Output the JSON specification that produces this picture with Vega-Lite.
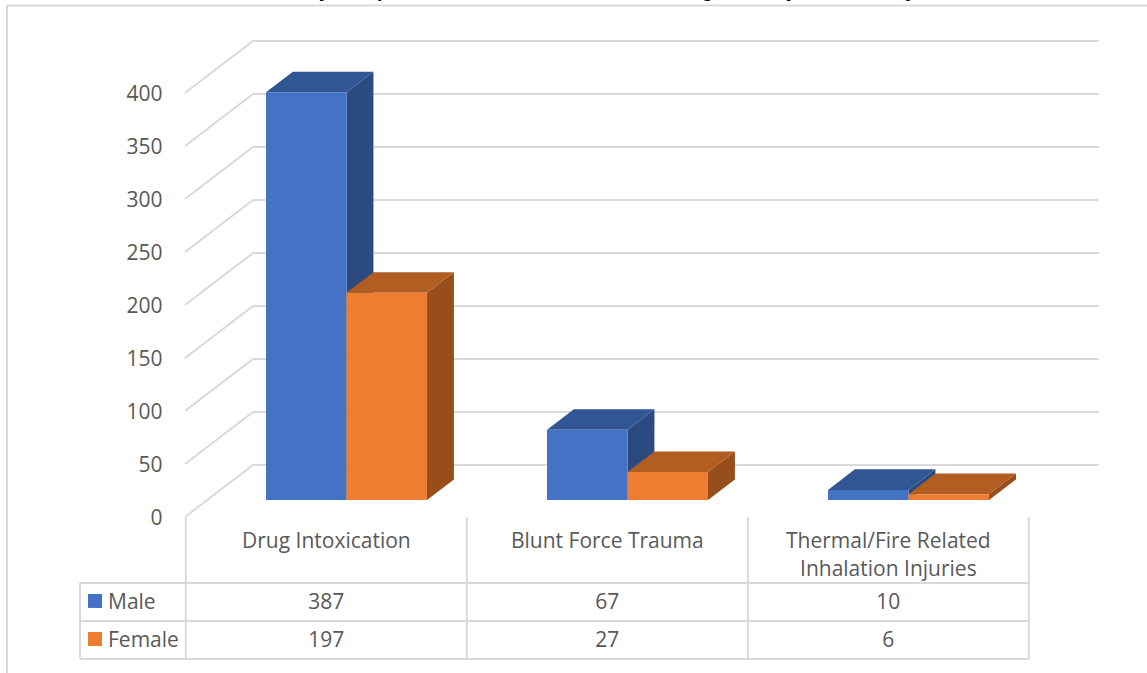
{
"$schema":"https://vega.github.io/schema/vega-lite/v6.json",
"width":962,"height":673,"autosize":{"type":"none"},"padding":{"left":185,"top":0,"right":0,"bottom":0},
"background":"white",
"config":{"view":{"stroke":null},"text":{"font":"Open Sans","fontSize":21,"color":"#595959"}},
"resolve":{"axis":{"y":"independent"}},
"datasets":{
"bars":[
{"cause":"Drug Intoxication","series":"Male","value":387},
{"cause":"Drug Intoxication","series":"Female","value":197},
{"cause":"Blunt Force Trauma","series":"Male","value":67},
{"cause":"Blunt Force Trauma","series":"Female","value":27},
{"cause":"Thermal/Fire Related Inhalation Injuries","series":"Male","value":10},
{"cause":"Thermal/Fire Related Inhalation Injuries","series":"Female","value":6}
],
"levels":[{"level":0},{"level":50},{"level":100},{"level":150},{"level":200},{"level":250},{"level":300},{"level":350},{"level":400}],
"boundaries":[{"b":0},{"b":1},{"b":2},{"b":3}],
"rows":[{"row":-62.3},{"row":-98.1},{"row":-134}],
"titleRow":[{"title":"Mortality Compared Across Three Causes, Ranking Them by Gender Only"}]
},
"layer":[
{"data":{"name":"levels"},"mark":{"type":"rule","stroke":"#D9D9D9","strokeWidth":2},
 "transform":[{"calculate":"datum.level+49.06","as":"back"}],
 "encoding":{
  "x":{"datum":0.242,"type":"quantitative","scale":{"domain":[0,3.42349],"range":[0,962],"nice":false,"zero":false},"axis":null},
  "x2":{"datum":3.2527},
  "y":{"field":"back","type":"quantitative","scale":{"domain":[-147.17,487.74],"range":[673,0],"nice":false,"zero":false},"axis":null}
 }},
{"data":{"name":"levels"},"mark":{"type":"line","stroke":"#D9D9D9","strokeWidth":2},
 "transform":[{"calculate":"[0,1]","as":"t"},{"flatten":["t"]},{"calculate":"datum.t*0.242","as":"px"},{"calculate":"datum.level+datum.t*49.06","as":"py"}],
 "encoding":{"x":{"field":"px","type":"quantitative","axis":null},"y":{"field":"py","type":"quantitative","axis":null},"detail":{"field":"level"}}},
{"data":{"name":"levels"},"mark":{"type":"point","opacity":0},
 "encoding":{"x":{"datum":0,"type":"quantitative","axis":null},
  "y":{"field":"level","type":"quantitative",
   "axis":{"orient":"left","values":[0,50,100,150,200,250,300,350,400],"title":null,"domain":false,"ticks":false,"grid":false,"labelPadding":23,"labelOffset":1.5,"labelFont":"Open Sans","labelFontSize":21,"labelColor":"#595959","labelBound":false,"labelFlush":false}}}},
{"data":{"name":"boundaries"},"transform":[{"calculate":"datum.b+0.003","as":"bx"}],"mark":{"type":"rule","stroke":"#D9D9D9","strokeWidth":2},
 "encoding":{"x":{"field":"bx","type":"quantitative","axis":null},"y":{"datum":0,"type":"quantitative","axis":null},"y2":{"datum":-134}}},
{"data":{"name":"rows"},"mark":{"type":"rule","stroke":"#D9D9D9","strokeWidth":2},
 "encoding":{"x":{"datum":-0.3737,"type":"quantitative","axis":null},"x2":{"datum":3.003},"y":{"field":"row","type":"quantitative","axis":null}}},
{"data":{"values":[{"frame":"left"}]},"mark":{"type":"rule","stroke":"#D9D9D9","strokeWidth":2},
 "encoding":{"x":{"datum":-0.3737,"type":"quantitative","axis":null},"y":{"datum":-62.3,"type":"quantitative","axis":null},"y2":{"datum":-134}}},
{"data":{"values":[{"frame":"left"}]},"mark":{"type":"rule","stroke":"#D9D9D9","strokeWidth":2},
 "encoding":{"x":{"datum":-0.6335,"type":"quantitative","axis":null},"y":{"datum":482.5,"type":"quantitative","axis":null},"y2":{"datum":-147.17}}},
{"data":{"values":[{"frame":"top"}]},"mark":{"type":"rule","stroke":"#D9D9D9","strokeWidth":2},
 "encoding":{"x":{"datum":-0.6335,"type":"quantitative","axis":null},"x2":{"datum":3.42349},"y":{"datum":482.5,"type":"quantitative","axis":null}}},
{"data":{"name":"titleRow"},"mark":{"type":"text","font":"Liberation Sans","fontWeight":"bold","fontSize":19,"color":"#000000","baseline":"alphabetic","align":"center"},
 "encoding":{"x":{"datum":1.4167,"type":"quantitative","axis":null},"y":{"datum":490.6,"type":"quantitative","axis":null},"text":{"field":"title"}}},
{"data":{"name":"bars"},
 "transform":[
  {"calculate":"indexof(['Drug Intoxication','Blunt Force Trauma','Thermal/Fire Related Inhalation Injuries'],datum.cause)","as":"idx"},
  {"calculate":"datum.series==='Male'?0:1","as":"s"},
  {"calculate":"datum.idx+0.2883+datum.s*0.2865","as":"x0"},
  {"calculate":"datum.x0+0.2865","as":"x1"},
  {"calculate":"15.6+datum.value*0.995","as":"top"},
  {"calculate":"16","as":"base"},
  {"calculate":"datum.idx+0.503","as":"mid"},
  {"calculate":"datum.series==='Male'?-81:-116.9","as":"tableY"},
  {"calculate":"replace(datum.cause,' Inhalation','\\nInhalation')","as":"causeLabel"}
 ],
 "layer":[
 {"transform":[{"calculate":"[0,1]","as":"t"},{"flatten":["t"]},{"calculate":"datum.x1+datum.t*0.0957","as":"ax"},{"calculate":"datum.top+datum.t*19.4","as":"ay"},{"calculate":"datum.base+datum.t*19.4","as":"ay2"},{"calculate":"datum.series+' side'","as":"face"}],
  "mark":{"type":"area","orient":"vertical"},
  "encoding":{"x":{"field":"ax","type":"quantitative","axis":null},"y":{"field":"ay","type":"quantitative","axis":null},"y2":{"field":"ay2"},"detail":{"field":"cause"},
   "color":{"field":"face","type":"nominal","legend":null,"sort":null,"scale":{"domain":["Male front","Female front","Male top","Female top","Male side","Female side"],"range":["#4472C4","#ED7D31","#325594","#B25E22","#2A4A80","#984E1B"]}}}},
 {"transform":[{"calculate":"[0,1]","as":"t"},{"flatten":["t"]},{"calculate":"datum.x0+datum.t*0.0957","as":"ax"},{"calculate":"datum.x1+datum.t*0.0957","as":"ax2"},{"calculate":"datum.top+datum.t*19.4","as":"ay"},{"calculate":"datum.series+' top'","as":"face"}],
  "mark":{"type":"area","orient":"horizontal"},
  "encoding":{"x":{"field":"ax","type":"quantitative","axis":null},"x2":{"field":"ax2"},"y":{"field":"ay","type":"quantitative","axis":null},"detail":{"field":"cause"},
   "color":{"field":"face","type":"nominal","legend":null}}},
 {"transform":[{"calculate":"datum.series+' front'","as":"face"}],
  "mark":{"type":"bar"},
  "encoding":{"x":{"field":"x0","type":"quantitative","axis":null},"x2":{"field":"x1"},"y":{"field":"top","type":"quantitative","axis":null},"y2":{"field":"base"},
   "color":{"field":"face","type":"nominal","legend":null}}},
 {"mark":{"type":"text","align":"center","baseline":"middle"},
  "encoding":{"x":{"field":"mid","type":"quantitative","axis":null},"y":{"field":"tableY","type":"quantitative","axis":null},"text":{"field":"value","type":"quantitative"}}},
 {"transform":[{"filter":"datum.series==='Male'"}],
  "mark":{"type":"text","align":"center","baseline":"top","lineBreak":"\n","lineHeight":28},
  "encoding":{"x":{"field":"mid","type":"quantitative","axis":null},"y":{"datum":-13.5,"type":"quantitative","axis":null},"text":{"field":"causeLabel"}}},
 {"transform":[{"filter":"datum.idx===0"},{"calculate":"datum.series+' front'","as":"face"},{"calculate":"datum.tableY+1.8","as":"swatchY"}],
  "mark":{"type":"point","shape":"square","filled":true,"size":196,"opacity":1},
  "encoding":{"x":{"datum":-0.3203,"type":"quantitative","axis":null},"y":{"field":"swatchY","type":"quantitative","axis":null},
   "color":{"field":"face","type":"nominal","legend":null}}},
 {"transform":[{"filter":"datum.idx===0"}],
  "mark":{"type":"text","align":"left","baseline":"middle"},
  "encoding":{"x":{"datum":-0.274,"type":"quantitative","axis":null},"y":{"field":"tableY","type":"quantitative","axis":null},"text":{"field":"series"}}}
 ]}
]
}
